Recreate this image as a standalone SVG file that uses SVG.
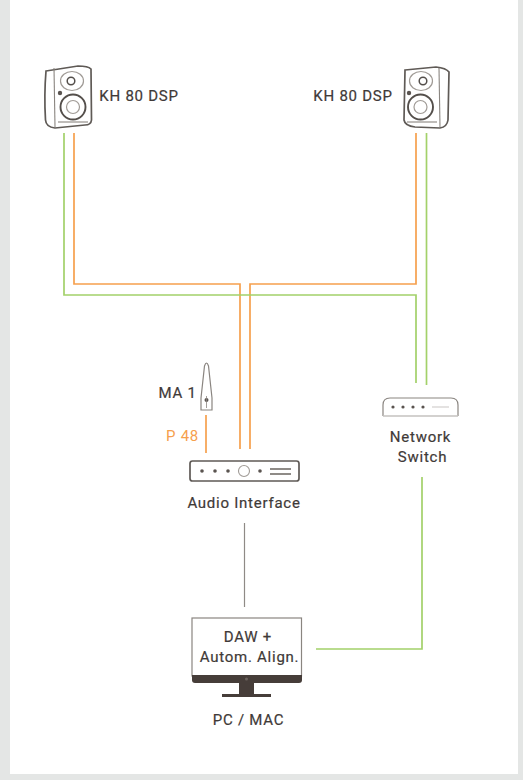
<svg xmlns="http://www.w3.org/2000/svg" width="523" height="780" viewBox="0 0 523 780">
<style>
.t{font-family:Roboto,"Noto Sans",sans-serif;font-size:15px;font-weight:400;fill:#3f3a38;stroke:#3f3a38;stroke-width:.2;letter-spacing:.75px;text-anchor:middle}
.o{fill:none;stroke:#f6a04d;stroke-width:1.7}
.g{fill:none;stroke:#a3d16a;stroke-width:1.7}
.k{fill:none;stroke:#8f8a86;stroke-width:1.2}
.d{fill:#5a5450}
.body{fill:#fff;stroke:#5f5a56;stroke-width:1.7}
.thin{fill:none;stroke:#8a8580;stroke-width:1.100}
.soft{fill:none;stroke:#a09b96;stroke-width:1.200}
.dark{fill:none;stroke:#544f4b;stroke-width:1.900}
</style>
<rect width="523" height="780" fill="#e4e6e5"/>
<rect x="10" y="0" width="508" height="774" fill="#fff"/>
<g id="connectors">
<path class="o" d="M74 133V284H240V449"/>
<path class="o" d="M416 133V284H250V449"/>
<path class="g" d="M64 133V295H416V383"/>
<path class="g" d="M426.500 133V385"/>
<path class="o" d="M206 415V453"/>
<path class="k" d="M244.500 523V607"/>
<path class="g" d="M422 477V649H316"/>
</g>
<g id="kh80-left">
<path class="body" d="M46 71L78 66Q88 66 91 69L91.500 120Q91 125 85 125L55 128Q46 127 45.500 120Q44 95 46 71Z"/>
<path class="thin" d="M54 68L55 127"/>
<ellipse class="soft" cx="72" cy="81" rx="11.500" ry="9.500"/>
<circle class="dark" cx="71" cy="81" r="3.800" style="stroke-width:1.500"/>
<circle class="dark" cx="73" cy="107" r="12.500"/>
<circle class="soft" cx="73" cy="107" r="6.500"/>
<circle class="d" cx="60" cy="93" r="2.200"/>
<path class="thin" d="M58 122H88"/>
<text class="t" x="139" y="101">KH 80 DSP</text>
</g>
<g id="kh80-right">
<path class="body" d="M405 70L436 67Q446 68 449 72L448 120Q447 127 440 128L415 127Q405 126 404 120Z"/>
<path class="thin" d="M439 68L440 127"/>
<ellipse class="soft" cx="421" cy="81" rx="11.500" ry="9.500"/>
<circle class="dark" cx="423" cy="81" r="3.800" style="stroke-width:1.500"/>
<circle class="dark" cx="420.500" cy="107" r="12.500"/>
<circle class="soft" cx="420.500" cy="107" r="6.500"/>
<circle class="d" cx="409" cy="93" r="2.200"/>
<path class="thin" d="M407 122H437"/>
<text class="t" x="353" y="101">KH 80 DSP</text>
</g>
<g id="ma1">
<path d="M204.500 366Q206.500 360 208.500 366L212 398V410H201V398Z" fill="#fff" stroke="#8a8580" stroke-width="1.200"/>
<circle class="d" cx="206.500" cy="400" r="2"/>
<path d="M206.500 396V408" stroke="#8a8580" stroke-width=".8"/>
<text class="t" x="177.500" y="398">MA 1</text>
<text class="t" x="182.500" y="441" style="fill:#f6a04d;stroke:none">P 48</text>
</g>
<g id="audio-interface">
<rect x="190" y="461" width="109" height="20" rx="2.500" fill="#fff" stroke="#5f5a56" stroke-width="1.700"/>
<circle class="d" cx="202" cy="471" r="1.800"/>
<circle class="d" cx="215" cy="471" r="1.800"/>
<circle class="d" cx="228" cy="471" r="1.800"/>
<circle cx="244" cy="471" r="5.500" fill="none" stroke="#a09b96" stroke-width="1.100"/>
<circle class="d" cx="260" cy="471" r="1.800"/>
<path d="M270 469H291M270 474H291" stroke="#6b6560" stroke-width="1.400"/>
<text class="t" x="244" y="508">Audio Interface</text>
</g>
<g id="network-switch">
<path d="M383 416V405Q383 398 390 398H451Q458 398 458 405V416" fill="#fff" stroke="#8a8580" stroke-width="1.200"/>
<path d="M383 416H458" stroke="#c5c2bf" stroke-width="1.500"/>
<circle class="d" cx="393" cy="407" r="1.600"/>
<circle class="d" cx="403" cy="407" r="1.600"/>
<circle class="d" cx="413" cy="407" r="1.600"/>
<circle class="d" cx="423" cy="407" r="1.600"/>
<path d="M432 407H449" stroke="#d5d3d1" stroke-width="1.300"/>
<text class="t" x="420.500" y="442">Network</text>
<text class="t" x="422.500" y="462">Switch</text>
</g>
<g id="pc-mac">
<rect x="192" y="618" width="109.500" height="58" fill="#fff" stroke="#8a8580" stroke-width="1.200"/>
<path d="M192 675H302V680Q302 683 299 683H195Q192 683 192 680Z" fill="#463d39"/>
<circle cx="246.500" cy="679" r="1.500" fill="#6b625d"/>
<path d="M239 683H254V694H271V697H222V694H239Z" fill="#463d39"/>
<text class="t" x="248" y="642">DAW +</text>
<text class="t" x="249.500" y="662">Autom. Align.</text>
<text class="t" x="248.500" y="725">PC / MAC</text>
</g>
</svg>
